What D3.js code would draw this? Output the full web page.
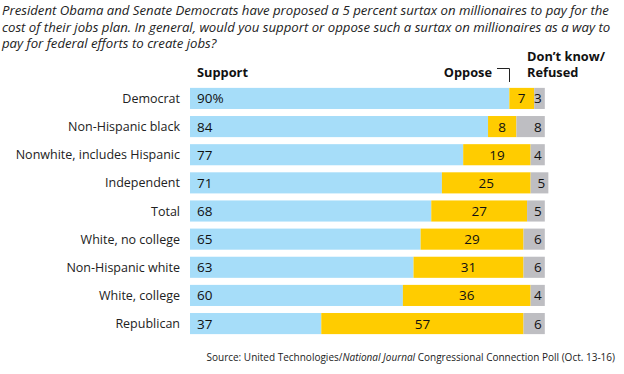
<!DOCTYPE html>
<html><head><meta charset="utf-8">
<script src="https://cdn.jsdelivr.net/npm/d3@7"></script>
<style>body{margin:0;background:#fff}svg{display:block}text{font-family:"Open Sans",sans-serif}</style>
</head><body>
<script>
const categories = ["Democrat","Non-Hispanic black","Nonwhite, includes Hispanic","Independent","Total","White, no college","Non-Hispanic white","White, college","Republican"];
const support = [90,84,77,71,68,65,63,60,37];
const oppose = [7,8,19,25,27,29,31,36,57];
const dontKnow = [3,8,4,5,5,6,6,4,6];
const titleLines = [
 "President Obama and Senate Democrats have proposed a 5 percent surtax on millionaires to pay for the",
 "cost of their jobs plan. In general, would you support or oppose such a surtax on millionaires as a way to",
 "pay for federal efforts to create jobs?"];

const W=624,H=374;
const svg=d3.select("body").append("svg").attr("width",W).attr("height",H);
const x=d3.scaleLinear().domain([0,100]).range([190,544.8]);
const y=d3.scaleBand().domain(categories).range([84.5,337.5]).paddingInner(0.25).paddingOuter(0.12);
const colors=["#a6ddf9","#ffcc00","#bebec2"];

svg.append("g").selectAll("text").data(titleLines).join("text")
 .attr("x",2).attr("y",(d,i)=>15+i*16.5).attr("font-size",13.2).attr("font-style","italic").attr("fill","#222").text(d=>d);

const rows=categories.map((c,i)=>({c,vals:[support[i],oppose[i],dontKnow[i]]}));
const g=svg.append("g");
rows.forEach((r,i)=>{
  let acc=0;
  r.vals.forEach((v,k)=>{
    const x0=x(acc),x1=x(acc+v);
    g.append("rect").attr("x",x0).attr("y",y(r.c)).attr("width",x1-x0).attr("height",y.bandwidth()).attr("fill",colors[k]);
    const cy=y(r.c)+y.bandwidth()/2+5;
    const t=g.append("text").attr("y",cy).attr("font-size",13.5).attr("font-weight",500).attr("fill","#111");
    if(k===0){t.attr("x",x0+7).text(i===0?v+"%":v);}
    else if(k===1){t.attr("x",(x0+x1)/2).attr("text-anchor","middle").text(v);}
    else {t.attr("x",x1-3).attr("text-anchor","end").text(v);}
    acc+=v;
  });
  g.append("text").attr("x",180).attr("y",y(r.c)+y.bandwidth()/2+4.5).attr("text-anchor","end").attr("font-size",12.5).attr("fill","#222").text(r.c);
});

const hdr=svg.append("g").attr("font-size",12.8).attr("font-weight","bold").attr("fill","#111");
hdr.append("text").attr("x",197).attr("y",77).text("Support");
hdr.append("text").attr("x",492).attr("y",77).attr("text-anchor","end").text("Oppose");
hdr.append("text").attr("x",527).attr("y",60.5).text("Don’t know/");
hdr.append("text").attr("x",527).attr("y",77).text("Refused");
svg.append("path").attr("d","M497,68.5H509.5V82").attr("fill","none").attr("stroke","#222").attr("stroke-width",1);

const src=svg.append("text").attr("x",615).attr("y",361).attr("text-anchor","end").attr("font-size",10).attr("fill","#222");
src.append("tspan").text("Source: United Technologies/");
src.append("tspan").attr("font-style","italic").text("National Journal");
src.append("tspan").text(" Congressional Connection Poll (Oct. 13-16)");
</script>
</body></html>
